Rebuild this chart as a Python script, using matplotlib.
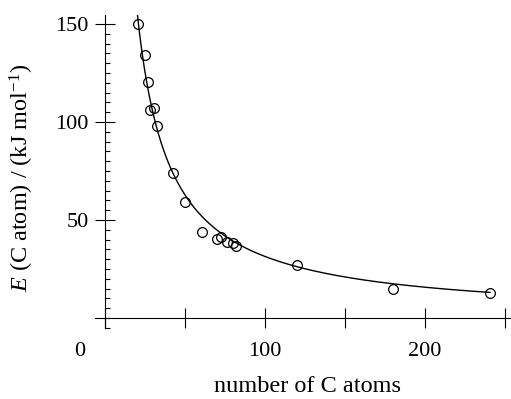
import numpy as np
import matplotlib
matplotlib.use("Agg")
import matplotlib.pyplot as plt
from matplotlib.ticker import MultipleLocator

plt.rcParams['font.family'] = ['Liberation Serif', 'DejaVu Serif']
plt.rcParams['mathtext.fontset'] = 'custom'
plt.rcParams['mathtext.rm'] = 'Liberation Serif'
plt.rcParams['mathtext.it'] = 'Liberation Serif:italic'

# data
n_atoms = [20.8, 25.0, 26.7, 28.1, 30.6, 32.7, 42.3, 50.0, 60.4, 70.2, 72.3,
           76.0, 79.8, 81.9, 120.2, 180.2, 240.2]
energy = [149.8, 134.2, 120.2, 106.0, 107.3, 97.8, 74.0, 59.2, 43.7, 40.2, 41.2,
          38.6, 38.1, 36.9, 27.0, 14.8, 12.6]
x_ticks = [0, 50, 100, 150, 200, 250]
x_ticklabels = ['', '', '100', '', '200', '']
y_ticks = [50, 100, 150]

x = np.array(n_atoms)
y = np.array(energy)
# least-squares fit of E = k / n (the fitted curve shown in the chart)
k = np.sum(y / x) / np.sum(1.0 / x**2)
xc = np.linspace(20.2, 240.5, 300)
yc = k / xc

W, H = 511, 399
fig = plt.figure(figsize=(W / 100, H / 100), dpi=100)
ax = fig.add_axes([95 / W, (H - 328) / H, (510 - 95) / W, (328 - 15) / H])

ax.plot(xc, yc, color='black', lw=1.0)
ax.plot(x, y, 'o', mfc='none', mec='black', ms=7, mew=0.9)

ax.set_xlim(-6.2, 253)
ax.set_ylim(-5.1, 154.6)

for s in ['top', 'right']:
    ax.spines[s].set_visible(False)
ax.spines['left'].set_position(('data', 0))
ax.spines['bottom'].set_position(('data', 0))
for s in ['left', 'bottom']:
    ax.spines[s].set_linewidth(0.8)

ax.set_xticks(x_ticks)
ax.set_xticklabels(x_ticklabels)
ax.set_yticks(y_ticks)
ax.yaxis.set_minor_locator(MultipleLocator(5))
ax.tick_params(axis='both', which='major', direction='inout', length=14.4,
               width=0.8, labelsize=16)
ax.tick_params(axis='x', which='major', pad=10)
ax.tick_params(axis='y', which='major', pad=4.3)
ax.tick_params(axis='y', which='minor', direction='in', length=3.6, width=0.8)

ax.annotate('0', xy=(0, 0), xycoords='data', xytext=(-18, -17.3),
            textcoords='offset points', ha='center', va='top', fontsize=16)

ax.set_xlabel('number of C atoms', fontsize=17.5, va='center')
ax.xaxis.set_label_coords((307 - 95) / 415, (328 - 386) / 313)
ax.set_ylabel('$E$ (C atom) / (kJ mol$^{-1}$)', fontsize=17.5, va='center')
ax.yaxis.set_label_coords((22 - 95) / 415, (328 - 178) / 313)

fig.savefig('out.png', dpi=100)
